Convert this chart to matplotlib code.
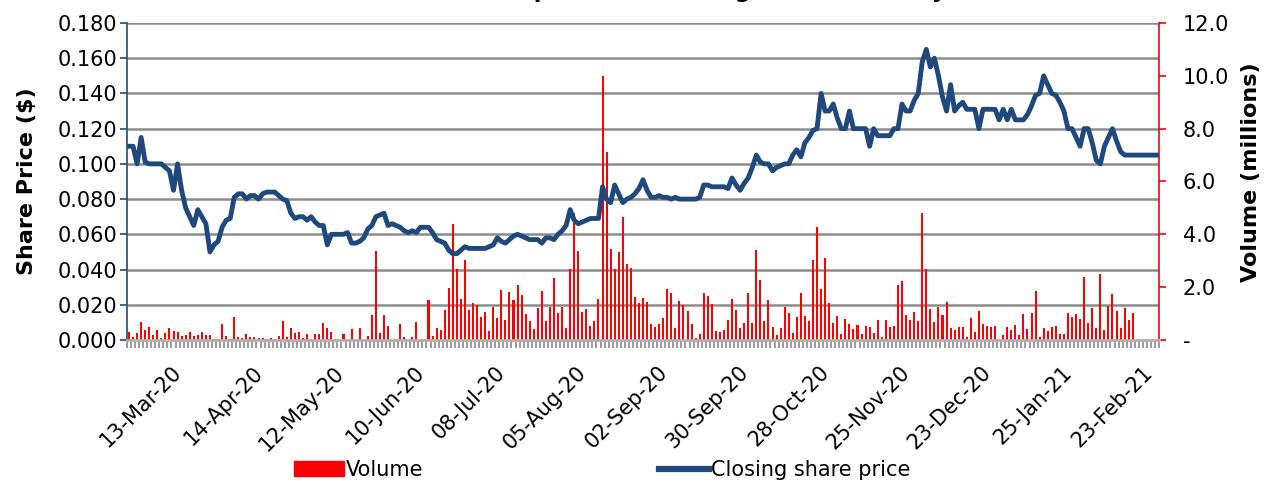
import matplotlib.pyplot as plt
from matplotlib import ticker
from matplotlib import transforms
from matplotlib.patches import Patch
from matplotlib.lines import Line2D
import numpy as np

# closing share price ($), one value per trading day
price = [
    0.110, 0.110, 0.100, 0.115, 0.101, 0.100, 0.100, 0.100, 0.100, 0.098,
    0.096, 0.085, 0.100, 0.085, 0.075, 0.070, 0.065, 0.074, 0.070, 0.066,
    0.050, 0.054, 0.056, 0.064, 0.068, 0.069, 0.081, 0.083, 0.083, 0.080,
    0.082, 0.082, 0.080, 0.083, 0.084, 0.084, 0.084, 0.082, 0.080, 0.079,
    0.072, 0.069, 0.070, 0.070, 0.068, 0.070, 0.067, 0.065, 0.065, 0.054,
    0.060, 0.060, 0.060, 0.060, 0.061, 0.055, 0.055, 0.056, 0.058, 0.063,
    0.065, 0.070, 0.071, 0.072, 0.065, 0.066, 0.065, 0.064, 0.062, 0.061,
    0.062, 0.061, 0.064, 0.064, 0.064, 0.061, 0.057, 0.056, 0.055, 0.051,
    0.049, 0.049, 0.051, 0.053, 0.052, 0.052, 0.052, 0.052, 0.052, 0.053,
    0.054, 0.058, 0.056, 0.055, 0.057, 0.059, 0.060, 0.059, 0.058, 0.057,
    0.057, 0.057, 0.055, 0.058, 0.058, 0.057, 0.060, 0.062, 0.065, 0.074,
    0.068, 0.066, 0.067, 0.068, 0.069, 0.069, 0.069, 0.087, 0.080, 0.078,
    0.088, 0.083, 0.078, 0.080, 0.081, 0.083, 0.086, 0.091, 0.085, 0.081,
    0.081, 0.082, 0.081, 0.081, 0.080, 0.081, 0.080, 0.080, 0.080, 0.080,
    0.080, 0.081, 0.088, 0.088, 0.087, 0.087, 0.087, 0.087, 0.086, 0.092,
    0.088, 0.085, 0.089, 0.092, 0.098, 0.105, 0.101, 0.100, 0.100, 0.096,
    0.098, 0.099, 0.100, 0.100, 0.105, 0.108, 0.104, 0.112, 0.115, 0.119,
    0.120, 0.140, 0.130, 0.130, 0.134, 0.126, 0.120, 0.120, 0.130, 0.120,
    0.120, 0.120, 0.120, 0.110, 0.120, 0.116, 0.116, 0.116, 0.116, 0.120,
    0.120, 0.134, 0.130, 0.130, 0.136, 0.140, 0.158, 0.165, 0.155, 0.160,
    0.150, 0.138, 0.130, 0.145, 0.130, 0.133, 0.135, 0.131, 0.131, 0.131,
    0.120, 0.131, 0.131, 0.131, 0.131, 0.125, 0.131, 0.125, 0.131, 0.125,
    0.125, 0.125, 0.128, 0.133, 0.139, 0.140, 0.150, 0.145, 0.140, 0.139,
    0.135, 0.130, 0.120, 0.120, 0.115, 0.110, 0.120, 0.120, 0.112, 0.102,
    0.100, 0.110, 0.115, 0.120, 0.113, 0.107, 0.105, 0.105, 0.105, 0.105,
    0.105, 0.105, 0.105, 0.105, 0.105,
]

# daily volume (millions)
volume = [
    0.32, 0.13, 0.28, 0.69, 0.38, 0.50, 0.19, 0.38, 0.09, 0.28,
    0.47, 0.35, 0.32, 0.15, 0.19, 0.32, 0.15, 0.19, 0.32, 0.19,
    0.19, 0.03, 0.03, 0.61, 0.15, 0.03, 0.86, 0.13, 0.06, 0.23,
    0.13, 0.10, 0.08, 0.06, 0.05, 0.08, 0.03, 0.15, 0.72, 0.13,
    0.44, 0.28, 0.32, 0.06, 0.23, 0.03, 0.23, 0.23, 0.66, 0.44,
    0.32, 0.03, 0.00, 0.23, 0.00, 0.42, 0.00, 0.44, 0.00, 0.15,
    0.95, 3.37, 0.25, 0.93, 0.53, 0.00, 0.03, 0.61, 0.13, 0.00,
    0.13, 0.69, 0.00, 0.00, 1.51, 0.15, 0.44, 0.38, 1.14, 1.96,
    4.38, 2.68, 1.54, 3.03, 1.14, 1.41, 1.32, 0.86, 1.06, 0.34,
    1.26, 0.82, 1.89, 0.76, 1.80, 1.51, 2.08, 1.70, 0.98, 0.72,
    0.42, 1.20, 1.87, 0.73, 1.26, 2.33, 1.03, 1.26, 0.44, 2.68,
    4.82, 3.37, 1.05, 1.16, 0.54, 0.72, 1.55, 10.00, 7.10, 3.44,
    2.68, 3.34, 4.67, 2.86, 2.74, 1.62, 1.41, 1.60, 1.45, 0.59,
    0.50, 0.61, 0.85, 1.93, 1.79, 0.47, 1.48, 1.32, 1.11, 0.59,
    0.06, 0.21, 1.79, 1.67, 1.35, 0.35, 0.32, 0.38, 0.76, 1.54,
    1.14, 0.47, 0.63, 1.79, 0.63, 3.41, 2.27, 0.72, 1.51, 0.50,
    0.19, 0.44, 1.26, 1.03, 0.28, 0.88, 1.77, 0.91, 0.72, 3.03,
    4.29, 1.93, 3.09, 1.39, 0.63, 0.91, 0.23, 0.78, 0.61, 0.40,
    0.57, 0.21, 0.53, 0.48, 0.25, 0.76, 0.13, 0.76, 0.50, 0.53,
    2.08, 2.23, 0.95, 0.76, 1.07, 0.72, 4.80, 2.68, 1.16, 0.67,
    1.26, 0.95, 1.45, 0.47, 0.38, 0.50, 0.50, 0.10, 0.85, 0.29,
    1.10, 0.59, 0.54, 0.50, 0.54, 0.00, 0.19, 0.50, 0.38, 0.57,
    0.19, 0.98, 0.42, 1.03, 1.87, 0.10, 0.47, 0.34, 0.50, 0.53,
    0.23, 0.23, 1.01, 0.86, 0.97, 0.79, 2.40, 0.66, 1.20, 0.44,
    2.50, 0.38, 1.29, 1.73, 1.10, 0.44, 1.20, 0.76, 1.01, 0.00,
    0.00, 0.00, 0.00, 0.00, 0.00,
]

# every 20th trading day is labelled
label_pos = [14, 34, 54, 74, 94, 114, 134, 154, 174, 194, 214, 234, 254]
date_labels = ['13-Mar-20', '14-Apr-20', '12-May-20', '10-Jun-20', '08-Jul-20',
               '05-Aug-20', '02-Sep-20', '30-Sep-20', '28-Oct-20', '25-Nov-20',
               '23-Dec-20', '25-Jan-21', '23-Feb-21']

price_ticks = [0.000, 0.020, 0.040, 0.060, 0.080, 0.100, 0.120, 0.140, 0.160, 0.180]
volume_ticks = [0, 2, 4, 6, 8, 10, 12]

navy = '#1F497D'
plt.rcParams['font.family'] = 'DejaVu Sans'

fig = plt.figure(figsize=(12.66, 4.82), dpi=100)
ax = fig.add_axes([0.1003, 0.2946, 0.8152, 0.6577])
ax2 = ax.twinx()
ax.set_zorder(ax2.get_zorder() + 1)
ax.patch.set_visible(False)

n = len(price)
xs = np.arange(n)

# gridlines (left axis) behind the bars
ax2.hlines(price_ticks[1:], 0, 1, transform=ax.get_yaxis_transform(),
           colors='#8c8c8c', linewidth=1.8, zorder=0)

ax2.bar(xs, volume, width=0.5, color='#ff0000', antialiased=False, zorder=2)
ax.plot(xs, price, color=navy, linewidth=3.5, solid_joinstyle='round', zorder=3)

ax.set_xlim(-0.5, n - 0.5)
ax.set_ylim(0, 0.18)
ax2.set_ylim(0, 12)

ax.set_yticks(price_ticks)
ax.yaxis.set_major_formatter(ticker.FormatStrFormatter('%.3f'))
ax2.set_yticks(volume_ticks)
ax2.set_yticklabels(['-' if v == 0 else f'{v:.1f}' for v in volume_ticks])

ax.set_xticks(label_pos)
ax.set_xticklabels(date_labels, rotation=45, ha='right', fontsize=15)
shift = transforms.ScaledTranslation(4 / 100, 0, fig.dpi_scale_trans)
for lbl in ax.get_xticklabels():
    lbl.set_transform(lbl.get_transform() + shift)
ax.set_xticks(np.arange(n + 1) - 0.5, minor=True)
ax.tick_params(axis='x', which='major', length=0, pad=16)
ax.tick_params(axis='x', which='minor', length=6, width=1.2, color='#8a8a8a')
ax.tick_params(axis='y', length=5, width=1.2, color=navy, labelsize=15, pad=2)
ax2.tick_params(axis='y', length=5, width=1.2, color='red', labelsize=15, pad=12)
ax2.tick_params(axis='x', length=0)

for s in ['top', 'right']:
    ax.spines[s].set_visible(False)
for s in ['top', 'left', 'bottom']:
    ax2.spines[s].set_visible(False)
ax.spines['left'].set_color(navy)
ax.spines['left'].set_linewidth(1.2)
ax.spines['bottom'].set_color('#b0b0b0')
ax.spines['bottom'].set_linewidth(2)
ax2.spines['right'].set_color('red')
ax2.spines['right'].set_linewidth(1.2)

ax.set_ylabel('Share Price ($)', fontsize=16, fontweight='bold')
ax.yaxis.set_label_coords(-0.087, 0.5)
ax2.set_ylabel('Volume (millions)', fontsize=16, fontweight='bold', rotation=90)
ax2.yaxis.set_label_coords(1.0795, 0.53)

# title sits mostly above the canvas in the original
fig.text(700 / 1266, 1.004, 'Share price and trading volume history',
         ha='center', va='baseline', fontsize=16, fontweight='bold')

handles = [Patch(color='#ff0000'),
           Line2D([0], [0], color=navy, linewidth=4.5)]
fig.legend(handles, ['Volume', 'Closing share price'], loc='center',
           bbox_to_anchor=(0.4755, 0.025), ncol=2, frameon=False, fontsize=15,
           handlelength=2.4, handletextpad=0.1, columnspacing=11.3)

fig.savefig('out.png', dpi=100)
